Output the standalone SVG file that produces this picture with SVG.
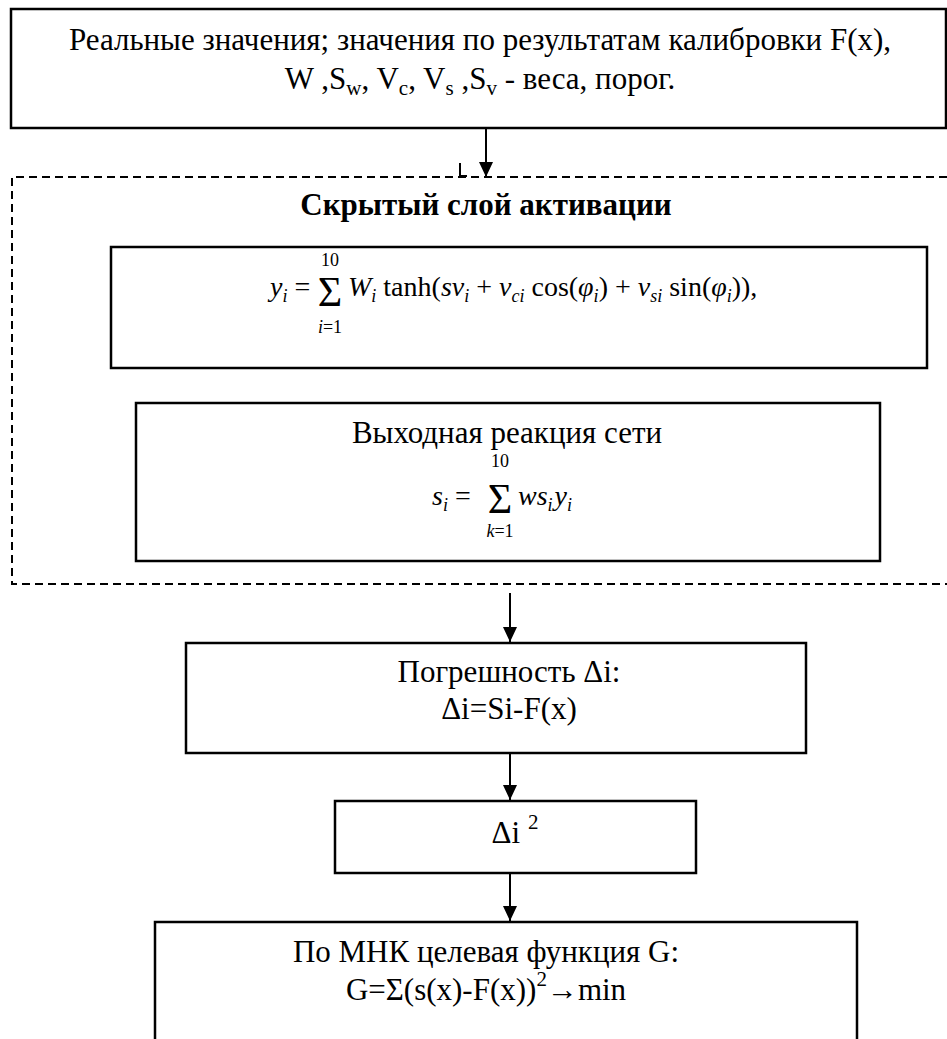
<svg xmlns="http://www.w3.org/2000/svg" width="947" height="1039" viewBox="0 0 947 1039" font-family="'Liberation Serif','Times New Roman',serif">
<style>
  .box{fill:#fff;stroke:#000;stroke-width:2.5}
  .dash{fill:none;stroke:#000;stroke-width:2;stroke-dasharray:8 5}
  .conn{fill:none;stroke:#000;stroke-width:2}
  text{font-family:"Liberation Serif","Times New Roman",serif;fill:#000}
  .t{font-size:31px}
  .c{text-anchor:middle}
  .it{font-style:italic}
  .m{font-size:28px}
  .lim{font-size:18px}
</style>
<defs>
  <marker id="ah" markerUnits="userSpaceOnUse" markerWidth="15" markerHeight="15" refX="15" refY="7" orient="auto">
    <path d="M0,0 L15,7 L0,14 z" fill="#000"/>
  </marker>
</defs>
<rect width="947" height="1039" fill="#fff"/>

<g id="layer">
  <path class="dash" d="M947,177 H12 V584 H947"/>
  <text class="t c" x="486" y="215" font-weight="bold">Скрытый слой активации</text>
</g>

<g id="n1">
  <rect class="box" x="11" y="9" width="935" height="119"/>
  <text class="t c" x="480" y="50">Реальные значения; значения по результатам калибровки F(x),</text>
  <text class="t c" x="480" y="89">W ,S<tspan dy="6" font-size="21">w</tspan><tspan dy="-6">, V</tspan><tspan dy="6" font-size="21">c</tspan><tspan dy="-6">, V</tspan><tspan dy="6" font-size="21">s</tspan><tspan dy="-6"> ,S</tspan><tspan dy="6" font-size="21">v</tspan><tspan dy="-6"> - веса, порог.</tspan></text>
</g>

<g id="n2">
  <rect class="box" x="111" y="247" width="816" height="121"/>
  <text class="m" x="270" y="296"><tspan class="it">y</tspan><tspan class="it lim" dy="6">i</tspan><tspan dy="-6"> = </tspan></text>
  <text x="330" y="306" font-size="42" class="c">Σ</text>
  <text class="lim c" x="330" y="266">10</text>
  <text class="lim c" x="330" y="333"><tspan class="it">i</tspan>=1</text>
  <text class="m" x="348" y="296"><tspan class="it">W</tspan><tspan class="it lim" dy="6">i</tspan><tspan dy="-6"> tanh(</tspan><tspan class="it">sv</tspan><tspan class="it lim" dy="6">i</tspan><tspan dy="-6"> + </tspan><tspan class="it">v</tspan><tspan class="it lim" dy="6">ci</tspan><tspan dy="-6"> cos(</tspan><tspan class="it">φ</tspan><tspan class="it lim" dy="6">i</tspan><tspan dy="-6">) + </tspan><tspan class="it">v</tspan><tspan class="it lim" dy="6">si</tspan><tspan dy="-6"> sin(</tspan><tspan class="it">φ</tspan><tspan class="it lim" dy="6">i</tspan><tspan dy="-6">)),</tspan></text>
</g>

<g id="n3">
  <rect class="box" x="136" y="403" width="744" height="158"/>
  <text class="t c" x="507" y="443">Выходная реакция сети</text>
  <text class="m" x="432" y="505"><tspan class="it">s</tspan><tspan class="it lim" dy="6">i</tspan><tspan dy="-6"> =</tspan></text>
  <text x="500" y="513" font-size="42" class="c">Σ</text>
  <text class="lim c" x="500" y="467">10</text>
  <text class="lim c" x="500" y="537"><tspan class="it">k</tspan>=1</text>
  <text class="m it" x="518" y="505">ws<tspan class="lim" dy="6">i</tspan><tspan dy="-6" dx="2">y</tspan><tspan class="lim" dy="6">i</tspan></text>
</g>

<g id="n4">
  <rect class="box" x="186" y="643" width="620" height="110"/>
  <text class="t c" x="509" y="682">Погрешность Δi:</text>
  <text class="t c" x="509" y="719">Δi=Si-F(x)</text>
</g>

<g id="n5">
  <rect class="box" x="335" y="801" width="361" height="72"/>
  <text class="t c" x="515" y="843">Δi <tspan dy="-14" font-size="21">2</tspan></text>
</g>

<g id="n6">
  <path class="box" fill="none" d="M155,1040 V922 H857 V1040"/>
  <text class="t c" x="486" y="962">По МНК целевая функция G:</text>
  <text class="t c" x="486" y="1000">G=Σ(s(x)-F(x))<tspan dy="-14" font-size="21">2</tspan><tspan dy="14">→min</tspan></text>
</g>

<g id="connectors">
  <line class="conn" x1="486" y1="128" x2="486" y2="177" marker-end="url(#ah)"/>
  <path class="conn" d="M460,163 V176 H467" stroke-width="1.5"/>
  <line class="conn" x1="510" y1="593" x2="510" y2="642" marker-end="url(#ah)"/>
  <line class="conn" x1="510" y1="753" x2="510" y2="800" marker-end="url(#ah)"/>
  <line class="conn" x1="510" y1="873" x2="510" y2="921" marker-end="url(#ah)"/>
</g>
</svg>
